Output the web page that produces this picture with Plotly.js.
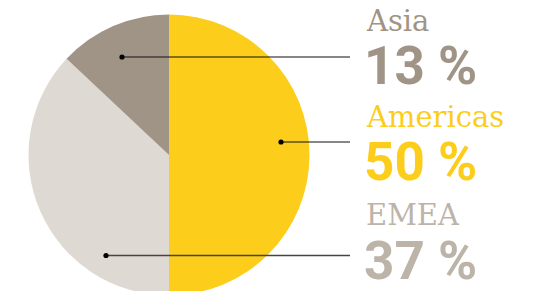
<!DOCTYPE html>
<html>
<head>
<meta charset="utf-8">
<script src="https://cdn.plot.ly/plotly-3.0.1.min.js"></script>
<style>html,body{margin:0;padding:0;background:#fff;overflow:hidden;}#chart{width:540px;height:310px;}</style>
</head>
<body>
<div id="chart"></div>
<script>
// Data
const regions = ["Americas", "EMEA", "Asia"];
const shares = [50, 37, 13];
const sliceColors = ["#FCCD1B", "#DFD9D3", "#A09486"];
const labelColors = ["#FCCD1B", "#BDB4A9", "#A09486"];
const rowOrder = ["Asia", "Americas", "EMEA"];

// Canvas is slightly taller than the window so the pie bottom is cropped like the reference
const W = 540, H = 310;
const px = x => x / W;
const py = y => 1 - y / H;

const cx = 169, cy = 155, r = 140.5;

const trace = {
  type: "pie",
  labels: regions,
  values: shares,
  sort: false,
  direction: "clockwise",
  rotation: 0,
  marker: {colors: sliceColors, line: {width: 0}},
  textinfo: "none",
  hoverinfo: "none",
  showlegend: false,
  domain: {x: [px(cx - r), px(cx + r)], y: [py(cy + r), py(cy - r)]}
};

// leader / label layout (pixels)
const rows = {
  Asia:     {lineY: 57,    dotX: 122, nameY: 21,  valY: 66},
  Americas: {lineY: 142,   dotX: 281, nameY: 117, valY: 162},
  EMEA:     {lineY: 255.5, dotX: 106, nameY: 215, valY: 261}
};
const lineColors = {Asia: "#111", Americas: "#111", EMEA: "#444"};
const lineWidths = {Asia: 1.2, Americas: 1.2, EMEA: 1.6};
const lineEndX = 350;
const nameX = 364, valX = 362;

const shapes = [];
const annotations = [];
rowOrder.forEach(name => {
  const i = regions.indexOf(name);
  const rw = rows[name];
  shapes.push({type: "line", xref: "paper", yref: "paper",
    x0: px(rw.dotX), x1: px(lineEndX), y0: py(rw.lineY), y1: py(rw.lineY),
    line: {color: lineColors[name], width: lineWidths[name]}});
  shapes.push({type: "circle", xref: "paper", yref: "paper",
    x0: px(rw.dotX - 2.6), x1: px(rw.dotX + 2.6), y0: py(rw.lineY + 2.6), y1: py(rw.lineY - 2.6),
    fillcolor: "#000", line: {width: 0}});
  annotations.push({xref: "paper", yref: "paper", x: px(nameX), y: py(rw.nameY),
    xanchor: "left", yanchor: "middle", showarrow: false, text: name,
    font: {family: "DejaVu Serif", size: 29, color: labelColors[i]}});
  annotations.push({xref: "paper", yref: "paper", x: px(valX), y: py(rw.valY),
    xanchor: "left", yanchor: "middle", showarrow: false, text: "<b>" + shares[i] + " %</b>",
    font: {family: "Roboto", size: 53, color: labelColors[i]}});
});

const layout = {
  width: W, height: H,
  margin: {l: 0, r: 0, t: 0, b: 0},
  paper_bgcolor: "#fff",
  shapes: shapes,
  annotations: annotations
};
Plotly.newPlot("chart", [trace], layout, {displayModeBar: false, staticPlot: true});
</script>
</body>
</html>
